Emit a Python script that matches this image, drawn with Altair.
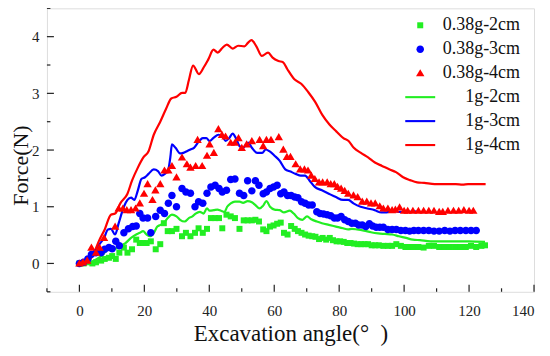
import altair as alt
import pandas as pd

SERIES = ["0.38g-2cm", "0.38g-3cm", "0.38g-4cm", "1g-2cm", "1g-3cm", "1g-4cm"]
COLORS = ["#22ee22", "#0000ff", "#ff0000", "#22ee22", "#0000ff", "#ff0000"]
LINE_SERIES = ["1g-2cm", "1g-3cm", "1g-4cm"]
LINE_COLORS = ["#22ee22", "#0000ff", "#ff0000"]

# 1g lines: (angle, force)
line_1g_2cm = [(0,0),(2.4,0),(4.5,0.05),(6.7,0.13),(8.3,0.22),(9.7,0.28),(11,0.26),(12.6,0.31),(14.2,0.36),
    (15.9,0.45),(17.5,0.51),(18.6,0.54),(19.6,0.57),(20.7,0.51),(21.8,0.48),(22.9,0.54),(24,0.65),(25,0.68),
    (26.1,0.72),(27.2,0.8),(28.5,0.86),(29.9,0.83),(31,0.77),(32.4,0.74),(33.7,0.8),(34.8,0.83),(35.8,0.88),
    (37.1,0.91),(38.2,0.88),(39.3,0.97),(40.1,0.93),(41.4,0.94),(42.5,0.95),(43.6,0.93),(44.7,0.91),(45.5,1.0),
    (46.6,1.06),(47.9,1.09),(49.3,1.09),(50.4,1.07),(51.8,1.1),(53.1,1.08),(54.2,1.03),(55.5,0.97),(56.6,1.02),
    (57.6,1.1),(58.7,1.0),(60.1,0.95),(61.7,0.94),(63,0.9),(64.8,0.93),(66,0.88),(67.3,0.8),(68.7,0.77),
    (70.1,0.83),(71.4,0.78),(73.1,0.74),(74.7,0.71),(76.8,0.68),(79,0.65),(81.2,0.62),(82.8,0.6),(83.9,0.61),
    (85.5,0.6),(87.6,0.58),(89.8,0.55),(92,0.53),(94.1,0.52),(96.3,0.51),(98.4,0.48),(100.6,0.45),(102.7,0.42),
    (104.9,0.41),(108.1,0.39),(111.4,0.39),(115.7,0.39),(120,0.39),(124.9,0.38)]
line_1g_3cm = [(0,0),(1.8,0),(3.2,0.08),(4.5,0.19),(6.2,0.34),(7.6,0.45),(8.8,0.6),(9.7,0.61),(11,0.51),
    (12.1,0.71),(13.7,1.0),(14.8,1.12),(15.9,1.16),(16.9,1.12),(18,1.29),(19.1,1.49),(20.2,1.52),(21.3,1.58),
    (22.9,1.66),(24.2,1.63),(25.3,1.55),(26.3,1.58),(27.4,1.66),(28,1.87),(28.5,2.1),(29.6,2.04),(31,1.94),
    (32,1.95),(33.1,1.98),(34.2,2.01),(35.3,2.04),(36.9,2.16),(38,2.21),(39.1,2.21),(40.1,2.16),(41.4,2.22),
    (42.8,2.27),(44.1,2.24),(45,2.16),(46.1,2.21),(47.2,2.29),(48.2,2.21),(49.3,2.07),(50.4,2.04),(52,2.13),
    (53.1,2.04),(54.7,1.95),(56.3,1.95),(57.4,2.01),(58.5,1.98),(60.1,1.9),(61.7,1.81),(63.4,1.66),(65,1.62),
    (66.6,1.58),(68.2,1.55),(69.5,1.55),(70.9,1.46),(72.5,1.35),(74.7,1.29),(76.8,1.23),(79,1.17),(81.2,1.12),
    (82.8,1.12),(84.4,1.06),(86.6,1.0),(88.7,0.97),(90.9,0.94),(93,0.9),(94.6,0.9),(96.3,0.94),(98.4,0.91),
    (100.6,0.91),(102.2,0.91),(103.8,0.92)]
line_1g_4cm = [(0,0),(2.4,0.02),(4,0.13),(6.2,0.42),(7.8,0.6),(9.7,0.86),(11,0.88),(12.6,1.06),(14.8,1.23),
    (16.2,1.46),(18,1.69),(19.7,1.87),(21.3,1.98),(22.9,2.27),(24.9,2.5),(26.7,2.73),(28.3,2.91),(29.9,2.94),
    (31.6,3.01),(32.6,3.01),(33.7,3.23),(35,3.49),(36.8,3.34),(38.3,3.46),(39.7,3.6),(41.3,3.77),(42.6,3.72),
    (44,3.8),(45.4,3.86),(47.2,3.79),(48.9,3.84),(50.8,3.83),(51.9,3.89),(53,3.94),(54.5,3.83),(56.2,3.66),
    (58.1,3.72),(59.5,3.63),(61.3,3.57),(62.7,3.55),(64,3.43),(66.2,3.25),(68.3,3.17),(70.5,3.02),(72.6,2.85),
    (74.8,2.62),(77,2.45),(79.1,2.33),(81.3,2.21),(82.9,2.16),(84.5,2.04),(86.7,1.95),(88.9,1.87),(91,1.78),
    (93.2,1.72),(95.4,1.66),(97.5,1.61),(99.7,1.52),(101.8,1.47),(104,1.43),(106.2,1.42),(109.4,1.4),
    (112.6,1.4),(115.9,1.4),(118,1.39),(119.7,1.4),(122.4,1.4),(125.1,1.4)]

# 0.38g measurements: (angle, force)
pts_038_2cm = [(0,0),(1.3,0),(2.6,0.02),(4,0),(5.1,0.02),(6.7,0.05),(7.8,0.08),(9.1,0.1),(10.1,0.13),(11.2,0.08),
    (12.3,0.19),(13.7,0.28),(14.8,0.19),(16.2,0.25),(17.5,0.42),(18.6,0.36),(19.6,0.36),(20.7,0.36),(22,0.39),
    (23.5,0.25),(24.9,0.34),(26,0.71),(27.2,0.57),(28.5,0.57),(29.9,0.61),(31.6,0.48),(32.8,0.54),(34.2,0.48),
    (35.6,0.54),(36.7,0.62),(38,0.54),(39.3,0.61),(40.5,0.8),(41.8,0.8),(43,0.8),(44,0.62),(45.3,0.86),
    (46.6,0.83),(47.9,0.8),(49.3,0.61),(50.6,0.76),(51.8,0.76),(53.1,0.76),(54.2,0.77),(55.3,0.74),(56.6,0.6),
    (57.6,0.57),(58.7,0.65),(59.8,0.67),(60.9,0.7),(62,0.72),(63,0.54),(64.1,0.51),(65.2,0.66),(66.3,0.61),
    (67.3,0.57),(68.4,0.54),(69.5,0.51),(70.6,0.49),(71.7,0.48),(72.7,0.47),(73.8,0.43),(74.9,0.45),(76,0.42),
    (77.1,0.45),(78.1,0.41),(79.2,0.39),(80.3,0.39),(81.4,0.38),(82.5,0.36),(83.5,0.36),(84.6,0.35),(85.7,0.34),
    (86.8,0.34),(87.8,0.34),(88.9,0.34),(90,0.32),(91.1,0.32),(92.2,0.32),(93.6,0.31),(95,0.31),(96.3,0.31),
    (97.6,0.34),(99,0.31),(100.4,0.29),(101.7,0.29),(103,0.29),(104.4,0.29),(106,0.28),(107.6,0.31),
    (109.2,0.31),(110.8,0.29),(112.5,0.29),(114.1,0.29),(115.7,0.29),(117.3,0.29),(119,0.29),(120.6,0.31),
    (122.2,0.29),(123.8,0.31),(124.9,0.32)]
pts_038_3cm = [(0,0),(1.3,0.02),(2.6,0.08),(3.7,0.16),(5.1,0.19),(6.7,0.19),(7.8,0.25),(9.1,0.28),(10.1,0.26),
    (11.2,0.39),(12.3,0.31),(13.7,0.54),(15.1,0.61),(16.4,0.65),(17.5,0.66),(18.6,0.88),(19.6,0.8),(21,0.8),
    (22,0.54),(23.5,0.83),(24.9,0.94),(26.2,0.88),(27.4,1.06),(28.5,1.2),(29.9,1.0),(31.6,1.32),(32.8,1.26),
    (34.2,1.24),(35.6,1.0),(36.7,1.09),(38,1.06),(39.3,1.24),(40.5,1.35),(41.8,1.38),(43,1.32),(44,1.26),
    (45.3,1.29),(46.6,1.48),(47.9,1.49),(49.3,1.24),(50.6,1.2),(51.8,1.46),(53.1,1.28),(54.2,1.46),(55.3,1.38),
    (56.6,1.23),(57.6,1.26),(58.7,1.32),(59.8,1.35),(60.9,1.38),(62,1.23),(63,1.26),(64.1,1.2),(65.2,1.2),
    (66.3,1.17),(67.3,1.16),(68.4,1.09),(69.5,1.06),(70.6,1.03),(71.7,1.03),(73.1,0.91),(74.1,0.88),(75.2,0.87),
    (76.3,0.86),(77.4,0.84),(78.5,0.8),(79.5,0.8),(80.6,0.83),(81.7,0.77),(82.8,0.74),(83.9,0.71),(85,0.71),
    (86,0.68),(87.1,0.68),(88.2,0.65),(89.3,0.7),(90.3,0.66),(91.4,0.64),(92.5,0.64),(93.6,0.64),(95,0.6),
    (96.3,0.6),(97.6,0.6),(99,0.58),(100.4,0.58),(101.7,0.57),(103,0.58),(104.4,0.58),(106,0.58),(107.6,0.58),
    (109.2,0.57),(110.8,0.57),(112.5,0.58),(114.1,0.57),(115.7,0.58),(117.3,0.58),(119,0.58),(120.6,0.58),
    (122.2,0.58)]
pts_038_4cm = [(0,0),(1.1,0.02),(2.4,0.05),(3.7,0.28),(5.1,0.19),(6.2,0.28),(7.6,0.45),(11,0.65),(12.1,0.97),
    (13.4,0.97),(14.6,0.94),(15.9,0.94),(17.3,0.97),(18.6,1.06),(19.9,1.23),(21,1.4),(22.5,1.12),(23.4,1.29),
    (24.9,1.4),(26.2,1.64),(27.4,1.64),(28.5,1.72),(29.9,1.52),(31.6,1.87),(33.1,1.75),(34.2,1.69),(35.8,1.72),
    (36.4,2.18),(37.8,1.72),(39.3,1.9),(40.1,2.1),(41.4,1.95),(42.8,2.37),(43.9,2.27),(45,2.24),(46.6,2.13),
    (47.9,2.13),(49,2.21),(50,2.04),(51.5,2.1),(53.1,2.16),(55.5,2.18),(56.6,2.07),(57.6,2.18),(59,2.18),
    (61.4,2.23),(62.8,2.01),(63.9,1.88),(65,1.88),(66.6,1.75),(68,1.66),(69.3,1.66),(70.4,1.64),(71.4,1.55),
    (72.5,1.49),(73.8,1.43),(74.9,1.43),(76.3,1.43),(77.4,1.4),(78.5,1.4),(79.5,1.35),(80.6,1.32),(81.7,1.28),
    (82.8,1.23),(84.4,1.2),(85.7,1.17),(87.1,1.09),(88.5,1.09),(89.8,1.06),(91.1,1.06),(92.5,1.01),(93.6,0.97),
    (95,0.97),(96.3,0.94),(97.3,0.95),(98.6,0.99),(100,0.93),(101.1,0.93),(102.7,0.93),(104.4,0.93),(106,0.93),
    (107.6,0.93),(109.2,0.93),(110.8,0.91),(111.9,0.91),(113.5,0.93),(115.2,0.93),(116.8,0.93),(118.4,0.94),
    (120,0.93),(121.3,0.93)]

X_LABELS = [0, 20, 40, 60, 80, 100, 120, 140]
X_MINOR = [-10, 10, 30, 50, 70, 90, 110, 130]
Y_LABELS = [0, 1, 2, 3, 4]
Y_MINOR = [-0.5, 0.5, 1.5, 2.5, 3.5, 4.5]

SHAPES = [
    "M-0.2,-0.2H0.2V0.2H-0.2Z",
    "M0.25,0A0.25,0.25,0,1,1,-0.25,0A0.25,0.25,0,1,1,0.25,0Z",
    "M0,-0.27L0.28,0.21L-0.28,0.21Z",
    "M-1,-0.07H1V0.07H-1Z",
    "M-1,-0.07H1V0.07H-1Z",
    "M-1,-0.07H1V0.07H-1Z",
]

def frame(pairs, name):
    return pd.DataFrame({"angle": [p[0] for p in pairs], "force": [p[1] for p in pairs], "series": name})

lines_df = pd.concat([frame(line_1g_2cm, "1g-2cm"), frame(line_1g_3cm, "1g-3cm"), frame(line_1g_4cm, "1g-4cm")])
pts_df = pd.concat([frame(pts_038_2cm, "0.38g-2cm"), frame(pts_038_3cm, "0.38g-3cm"), frame(pts_038_4cm, "0.38g-4cm")])

W, H = 488, 284
FONT = "Liberation Serif, Times New Roman, serif"
xscale = alt.Scale(domain=[-10, 140], nice=False, zero=False)
yscale = alt.Scale(domain=[-0.5, 4.5], nice=False, zero=False)
cscale = alt.Scale(domain=SERIES, range=COLORS)
sscale = alt.Scale(domain=SERIES, range=SHAPES)
lscale = alt.Scale(domain=LINE_SERIES, range=LINE_COLORS)

xaxis = alt.Axis(values=X_LABELS, ticks=False, domain=False, grid=False, format="d",
                 labelFont=FONT, labelFontSize=15, labelColor="#222", labelPadding=12,
                 title="Excavation angle(°\u2002)", titleFont=FONT, titleFontSize=23,
                 titleFontWeight="normal", titleColor="#111", titleY=49, titleBaseline="alphabetic")
yaxis = alt.Axis(values=Y_LABELS, ticks=False, domain=False, grid=False, format="d",
                 labelFont=FONT, labelFontSize=15, labelColor="#222", labelPadding=8,
                 title="Force(N)", titleFont=FONT, titleFontSize=22, titleFontWeight="normal",
                 titleColor="#111", titleX=-19, titleY=157, titleBaseline="alphabetic", titleAngle=270)

X = lambda: alt.X("angle:Q", scale=xscale, axis=xaxis)
Y = lambda: alt.Y("force:Q", scale=yscale, axis=yaxis)

xt_major = alt.Chart(pd.DataFrame({"angle": X_LABELS})).mark_rule(color="#222", strokeWidth=1.2).encode(
    x=X(), y=alt.value(H), y2=alt.value(H - 7))
xt_minor = alt.Chart(pd.DataFrame({"angle": X_MINOR})).mark_rule(color="#222", strokeWidth=1.2).encode(
    x=X(), y=alt.value(H), y2=alt.value(H - 3.5))
yt_major = alt.Chart(pd.DataFrame({"force": Y_LABELS})).mark_rule(color="#222", strokeWidth=1.2).encode(
    y=Y(), x=alt.value(0), x2=alt.value(7))
yt_minor = alt.Chart(pd.DataFrame({"force": Y_MINOR})).mark_rule(color="#222", strokeWidth=1.2).encode(
    y=Y(), x=alt.value(0), x2=alt.value(3.5))

lines = alt.Chart(lines_df).mark_line(strokeWidth=2.2, interpolate="monotone").encode(
    x=X(), y=Y(),
    stroke=alt.Stroke("series:N", scale=lscale, legend=None),
    detail="series:N",
)

leg = alt.Legend(
    title=None, orient="none", legendX=359, legendY=2, padding=0, symbolSize=900,
    symbolStrokeWidth=0, labelAlign="right", labelOffset=85, labelFont=FONT, labelFontSize=18,
    labelColor="#111", rowPadding=-4.5, labelLimit=200)

points = alt.Chart(pts_df).mark_point(filled=True, size=900, opacity=1, strokeWidth=0).encode(
    x=X(), y=Y(),
    color=alt.Color("series:N", scale=cscale, legend=leg),
    shape=alt.Shape("series:N", scale=sscale, legend=leg),
)

chart = alt.layer(xt_major, xt_minor, yt_major, yt_minor, lines, points).properties(
    width=W, height=H,
    autosize=alt.AutoSizeParams(type="none"),
    padding={"left": 39, "top": 0, "right": 8, "bottom": 56},
).configure_view(stroke="#333", strokeWidth=1.5).configure(background="white")

chart.save("out.html", embed_options={"renderer": "svg", "actions": False})
